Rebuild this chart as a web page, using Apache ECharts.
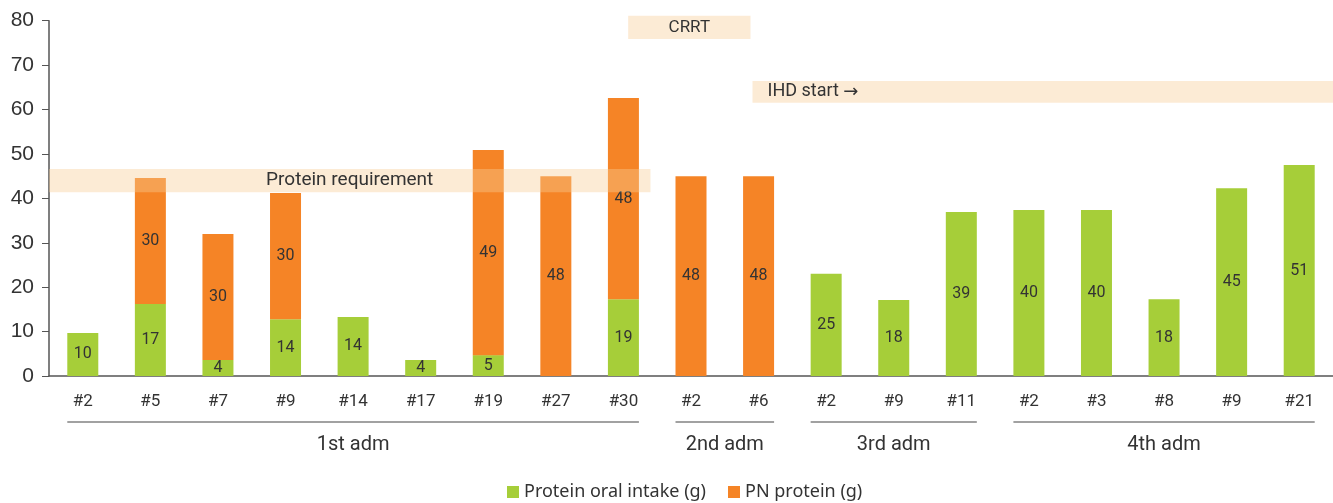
<!DOCTYPE html>
<html>
<head>
<meta charset="utf-8">
<script src="https://cdn.jsdelivr.net/npm/echarts@6/dist/echarts.min.js"></script>
<style>html,body{margin:0;padding:0;background:#fff;}#c{width:1333px;height:503px;}</style>
</head>
<body>
<div id="c"></div>
<script>
const categories = ['#2','#5','#7','#9','#14','#17','#19','#27','#30','#2','#6','#2','#9','#11','#2','#3','#8','#9','#21'];
const oralIntake = [9.7,16.2,3.6,12.8,13.3,3.6,4.7,null,17.3,null,null,23.0,17.1,36.9,37.4,37.4,17.3,42.3,47.5];
const pnProtein  = [null,28.4,28.4,28.4,null,null,46.2,45.0,45.3,45.0,45.0,null,null,null,null,null,null,null,null];
const oralLabels = ['10','17','4','14','14','4','5','','19','','','25','18','39','40','40','18','45','51'];
const pnLabels   = ['','30','30','30','','','49','48','48','48','48','','','','','','','',''];
const yTicks = [0,10,20,30,40,50,60,70,80];
const groups = [
  {name:'1st adm', from:0, to:8},
  {name:'2nd adm', from:9, to:10},
  {name:'3rd adm', from:11, to:13},
  {name:'4th adm', from:14, to:18}
];
// annotation bands: category position range (fractional) and value range
const bands = [
  {text:'Protein requirement', arrow:false, x0:-0.5, x1:8.4, y0:41.4, y1:46.6, align:'center', size:19},
  {text:'CRRT', arrow:false, x0:8.07, x1:9.88, y0:75.9, y1:81.1, align:'center', size:17},
  {text:'IHD start ', arrow:true, x0:9.91, x1:18.5, y0:61.5, y1:66.4, align:'left', size:18}
];

const GREEN = '#A6CE39', ORANGE = '#F58426', TXT = '#333';
const BARW = 31;
const chart = echarts.init(document.getElementById('c'));
chart.setOption({
  animation:false,
  grid:{left:49, top:20.7, width:1288.6, height:355.3},
  legend:{
    left:502, top:478, icon:'rect', itemWidth:12, itemHeight:12, itemGap:22,
    textStyle:{fontFamily:'Noto Sans', fontSize:18, color:TXT},
    data:['Protein oral intake (g)','PN protein (g)']
  },
  xAxis:{
    type:'category', data:categories,
    axisLine:{lineStyle:{color:'#555', width:1.5}},
    axisTick:{alignWithLabel:true, length:6, lineStyle:{color:'#555'}},
    axisLabel:{fontFamily:'Roboto', fontSize:17, color:TXT, margin:17}
  },
  yAxis:{
    type:'value', min:yTicks[0], max:yTicks[yTicks.length-1], interval:10,
    splitLine:{show:false},
    axisLine:{show:true, lineStyle:{color:'#555', width:1.5}},
    axisTick:{show:true, length:7, lineStyle:{color:'#555'}},
    axisLabel:{fontFamily:'Liberation Sans', fontSize:21, color:TXT, margin:15}
  },
  series:[
    {name:'Protein oral intake (g)', type:'bar', stack:'p', barWidth:BARW, data:oralIntake,
     itemStyle:{color:GREEN},
     label:{show:true, position:'inside', fontFamily:'Roboto', fontSize:16, color:TXT,
            formatter:p=>oralLabels[p.dataIndex]}},
    {name:'PN protein (g)', type:'bar', stack:'p', barWidth:BARW, data:pnProtein,
     itemStyle:{color:ORANGE},
     label:{show:true, position:'inside', fontFamily:'Roboto', fontSize:16, color:TXT,
            formatter:p=>pnLabels[p.dataIndex]}}
  ]
});

function xPix(c){
  const p0 = chart.convertToPixel({xAxisIndex:0}, 0);
  const p1 = chart.convertToPixel({xAxisIndex:0}, 1);
  return p0 + c*(p1-p0);
}
function yPix(v){ return chart.convertToPixel({yAxisIndex:0}, v); }

const g = [];
bands.forEach(b=>{
  const xa = xPix(b.x0), xb = xPix(b.x1), ya = yPix(b.y1), yb = yPix(b.y0);
  g.push({type:'rect', z:10, shape:{x:xa, y:ya, width:xb-xa, height:yb-ya},
          style:{fill:'rgba(247,205,150,0.4)'}});
  g.push({type:'text', z:11,
          x: b.align==='center' ? (xa+xb)/2 : xa+15, y:(ya+yb)/2,
          style:{text: b.arrow ? '{t|'+b.text+'}{a|\u2192}' : b.text,
                 fontFamily:'Roboto', fontSize:b.size, fill:TXT,
                 rich:{t:{fontFamily:'Roboto', fontSize:b.size, fill:TXT},
                       a:{fontFamily:'DejaVu Sans', fontSize:b.size, fill:TXT}},
                 align:b.align, verticalAlign:'middle'}});
});
const y0 = yPix(0);
groups.forEach(gr=>{
  const xa = xPix(gr.from)-BARW/2, xb = xPix(gr.to)+BARW/2;
  g.push({type:'line', z:10, shape:{x1:xa, y1:y0+46, x2:xb, y2:y0+46},
          style:{stroke:'#444', lineWidth:1.2}});
  g.push({type:'text', z:10, x:(xa+xb)/2, y:y0+69,
          style:{text:gr.name, fontFamily:'Roboto', fontSize:20, fill:TXT,
                 align:'center', verticalAlign:'middle'}});
});
chart.setOption({graphic:g});
</script>
</body>
</html>
